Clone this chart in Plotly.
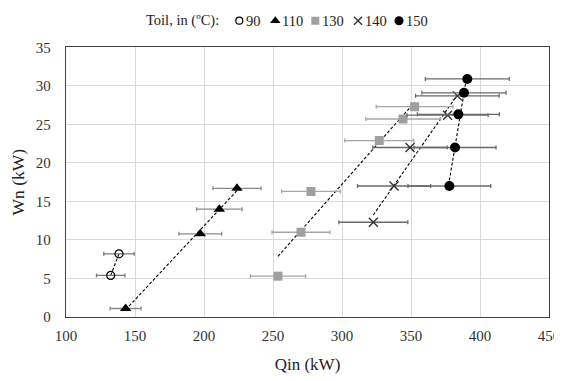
import numpy as np
import plotly.graph_objects as go

# ---- data ----
series_names = ["90", "110", "130", "140", "150"]

q90 = [132.4, 138.4]
w90 = [5.4, 8.2]
e90 = [10.3, 11.0]

q110 = [143.2, 197.3, 211.1, 223.9]
w110 = [1.1, 10.8, 14.0, 16.7]
e110 = [11.2, 15.5, 16.5, 17.4]

q130 = [253.6, 270.3, 277.5, 327.0, 344.2, 352.6]
w130 = [5.3, 11.0, 16.3, 22.9, 25.7, 27.3]
e130 = [20.0, 21.0, 21.3, 25.0, 27.0, 27.8]

q140 = [322.7, 337.7, 349.3, 376.5, 383.6]
w140 = [12.3, 17.0, 22.0, 26.2, 28.7]
e140 = [25.0, 26.5, 27.0, 29.4, 30.3]

q150 = [377.8, 381.9, 384.3, 388.4, 390.8]
w150 = [17.0, 22.0, 26.3, 29.1, 30.9]
e150 = [30.0, 29.7, 29.7, 30.5, 30.4]

x_ticks = [100, 150, 200, 250, 300, 350, 400, 450]
y_ticks = [0, 5, 10, 15, 20, 25, 30, 35]

legend_title = "Toil, in (ºC):"

# ---- styles ----
FONT = "'Liberation Serif', 'Times New Roman', serif"
styles = [
    dict(symbol="circle-open", size=8, color="#000000", line=dict(color="#000000", width=1.2), err="#7a7a7a"),
    dict(symbol="triangle-up", size=10, color="#000000", line=dict(color="#000000", width=0), err="#8a8a8a"),
    dict(symbol="square", size=9, color="#a0a0a0", line=dict(color="#a0a0a0", width=0), err="#a6a6a6"),
    dict(symbol="x-thin-open", size=9, color="#333333", line=dict(color="#333333", width=1.4), err="#6a6a6a"),
    dict(symbol="circle", size=10, color="#000000", line=dict(color="#000000", width=0), err="#6a6a6a"),
]

data = [(q90, w90, e90), (q110, w110, e110), (q130, w130, e130),
        (q140, w140, e140), (q150, w150, e150)]

fig = go.Figure()

# trendlines (linear least squares, over each series' x range)
for (q, w, e) in data:
    q_a = np.array(q)
    m, b = np.polyfit(q_a, np.array(w), 1)
    xs = np.array([q_a.min(), q_a.max()])
    fig.add_trace(go.Scatter(x=xs, y=m * xs + b, mode="lines",
                             line=dict(color="#000000", width=1.1, dash="3px,2px"),
                             showlegend=False, hoverinfo="skip"))

# data points with horizontal error bars
for name, (q, w, e), st in zip(series_names, data, styles):
    fig.add_trace(go.Scatter(
        x=q, y=w, mode="markers", name=name, showlegend=False,
        marker=dict(symbol=st["symbol"], size=st["size"], color=st["color"], line=st["line"]),
        error_x=dict(type="data", array=e, visible=True, color=st["err"], thickness=1.3, width=2),
    ))

# manual legend (markers on hidden axes above the plot)
LEG_MARK_X = [239.3, 275.3, 315.3, 358.0, 399.0]
for name, st, lx in zip(series_names, styles, LEG_MARK_X):
    fig.add_trace(go.Scatter(
        x=[lx], y=[0], mode="markers", xaxis="x2", yaxis="y2", showlegend=False,
        hoverinfo="skip",
        marker=dict(symbol=st["symbol"], size=st["size"] - 1, color=st["color"], line=st["line"]),
    ))
    fig.add_annotation(x=lx + 4.5, y=0, xref="x2", yref="y2", text=name, showarrow=False,
                       xanchor="left", yanchor="middle",
                       font=dict(family=FONT, size=14.5, color="#222222"))
fig.add_annotation(x=221, y=0, xref="x2", yref="y2", text=legend_title, showarrow=False,
                   xanchor="right", yanchor="middle",
                   font=dict(family=FONT, size=14.5, color="#222222"))

axis_common = dict(showgrid=True, gridcolor="#d9d9d9", gridwidth=1,
                   showline=True, linecolor="#404040", linewidth=1.3, mirror=True,
                   ticks="", zeroline=False, automargin=False,
                   tickfont=dict(family=FONT, size=15, color="#333333"))

fig.update_layout(
    template="none",
    width=554, height=373,
    margin=dict(l=58, r=13, t=2, b=64.3),
    paper_bgcolor="white", plot_bgcolor="white",
    showlegend=False,
    font=dict(family=FONT),
    xaxis=dict(range=[100, 450], tickvals=x_ticks, ticklabelstandoff=5,
               title=dict(text="Qin (kW)", font=dict(family=FONT, size=17, color="#222222"), standoff=14),
               **axis_common),
    yaxis=dict(range=[0, 35], tickvals=y_ticks, domain=[0, 0.8784], ticklabelstandoff=11,
               title=dict(text="Wn (kW)", font=dict(family=FONT, size=17.5, color="#222222"), standoff=8),
               **axis_common),
    xaxis2=dict(range=[66, 549], domain=[0, 1], visible=False, anchor="y2", automargin=False),
    yaxis2=dict(range=[-1, 1], domain=[0.9325, 0.9977], visible=False, anchor="x2", automargin=False),
)

fig.write_html("out.html")
